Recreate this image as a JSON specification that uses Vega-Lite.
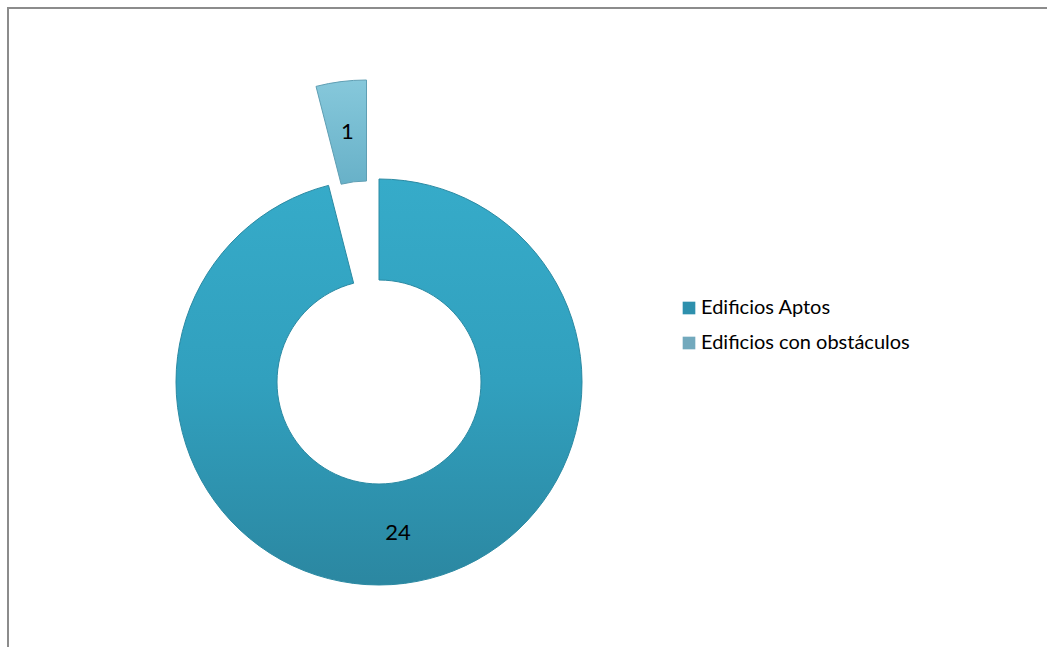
{
  "$schema": "https://vega.github.io/schema/vega-lite/v6.json",
  "autosize": "none",
  "padding": {"left": 8, "top": 8, "right": 0, "bottom": 0},
  "width": 1052,
  "height": 650,
  "background": "white",
  "view": {"stroke": "#8c8c8c", "strokeWidth": 2, "fill": "white"},
  "config": {
    "view": {"stroke": "#8c8c8c", "strokeWidth": 2},
    "font": "Lato"
  },
  "data": {
    "values": [
      {"category": "Edificios Aptos", "value": 24},
      {"category": "Edificios con obstáculos", "value": 1}
    ]
  },
  "layer": [
    {
      "mark": {
        "type": "arc",
        "x": 371, "y": 374,
        "radius": 203, "radius2": 102,
        "stroke": "#2b8aa3", "strokeWidth": 1,
        "fill": {
          "gradient": "linear", "x1": 0, "y1": 0, "x2": 0, "y2": 1,
          "stops": [
            {"offset": 0, "color": "#36abc9"},
            {"offset": 0.5, "color": "#31a0be"},
            {"offset": 1, "color": "#2b87a1"}
          ]
        }
      },
      "encoding": {
        "theta": {"field": "value", "type": "quantitative", "stack": true},
        "detail": {"field": "category"},
        "order": {"field": "category", "sort": "ascending"},
        "opacity": {"condition": {"test": "datum.category === 'Edificios Aptos'", "value": 1}, "value": 0}
      }
    },
    {
      "mark": {
        "type": "arc",
        "x": 371, "y": 374,
        "xOffset": -12.5, "yOffset": -99,
        "radius": 203, "radius2": 102,
        "stroke": "#5f9fb4", "strokeWidth": 1,
        "fill": {
          "gradient": "linear", "x1": 0, "y1": 0, "x2": 0, "y2": 1,
          "stops": [
            {"offset": 0, "color": "#86c8db"},
            {"offset": 1, "color": "#68b1c8"}
          ]
        }
      },
      "encoding": {
        "theta": {"field": "value", "type": "quantitative", "stack": true},
        "detail": {"field": "category"},
        "order": {"field": "category", "sort": "ascending"},
        "opacity": {"condition": {"test": "datum.category === 'Edificios con obstáculos'", "value": 1}, "value": 0}
      }
    },
    {
      "mark": {"type": "text", "x": 371, "y": 374, "radius": 152, "fontSize": 22, "color": "black"},
      "encoding": {
        "theta": {"field": "value", "type": "quantitative", "stack": true},
        "detail": {"field": "category"},
        "order": {"field": "category", "sort": "ascending"},
        "text": {"field": "value", "type": "quantitative"},
        "opacity": {"condition": {"test": "datum.category === 'Edificios Aptos'", "value": 1}, "value": 0}
      }
    },
    {
      "mark": {"type": "text", "x": 371, "y": 374, "xOffset": -12.5, "yOffset": -99, "radius": 152, "fontSize": 22, "color": "black"},
      "encoding": {
        "theta": {"field": "value", "type": "quantitative", "stack": true},
        "detail": {"field": "category"},
        "order": {"field": "category", "sort": "ascending"},
        "text": {"field": "value", "type": "quantitative"},
        "opacity": {"condition": {"test": "datum.category === 'Edificios con obstáculos'", "value": 1}, "value": 0}
      }
    },
    {
      "mark": {"type": "point", "shape": "square", "filled": true, "opacity": 0},
      "encoding": {
        "color": {
          "field": "category",
          "type": "nominal",
          "scale": {"range": ["#2e90ad", "#72a9bd"]},
          "legend": {
            "title": null,
            "orient": "none",
            "legendX": 671,
            "legendY": 290,
            "padding": 0,
            "symbolType": "square",
            "symbolSize": 160,
            "symbolOpacity": 1,
            "symbolStrokeWidth": 0,
            "labelFont": "Lato",
            "labelFontSize": 20,
            "labelLimit": 0,
            "labelColor": "black",
            "labelOffset": 2,
            "rowPadding": 15
          }
        }
      }
    }
  ]
}
